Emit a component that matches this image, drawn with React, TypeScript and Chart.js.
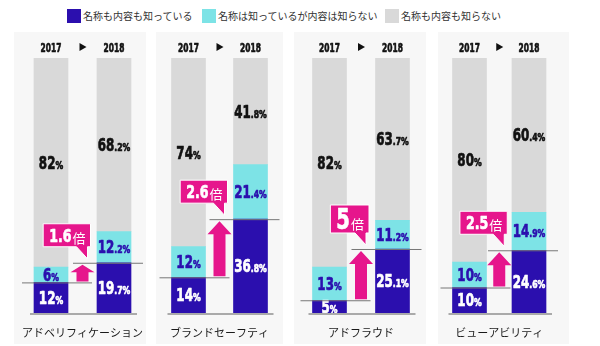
import React, { useEffect, useRef } from 'react';
import { Chart, registerables } from 'chart.js';

Chart.register(...registerables);

// ---- data ----
const years = ['2017', '2018'];
const panelNames = ['アドベリフィケーション', 'ブランドセーフティ', 'アドフラウド', 'ビューアビリティ'];
const seriesNames = ['名称も内容も知っている', '名称は知っているが内容は知らない', '名称も内容も知らない'];
const knowBoth = [[12, 19.7], [14, 36.8], [5, 25.1], [10, 24.6]];
const knowName = [[6, 12.2], [12, 21.4], [13, 11.2], [10, 14.9]];
const knowNone = [[82, 68.2], [74, 41.8], [82, 63.7], [80, 60.4]];
const growth = ['1.6', '2.6', '5', '2.5'];
const growthUnit = '倍';

// ---- styles ----
const COLORS = ['#2b0fae', '#7de3e6', '#d9d9d9'];
const LABEL_COLORS = ['#ffffff', '#2b0fae', '#111111'];
const PINK = '#e6168c';
const NUM_FONT = '"DejaVu Sans", sans-serif';
const JP_FONT = '"Noto Sans CJK JP", "Noto Sans", sans-serif';
const SQUEEZE = 0.7;

const PANELS = [
  { left: 14, width: 132, padL: 5.5, padR: 0.5 },
  { left: 156, width: 127, padL: 1.5, padR: 1.5 },
  { left: 294, width: 132, padL: 4, padR: 2 },
  { left: 438, width: 131, padL: 1.75, padR: 10.25 },
];

function splitPct(v: number): [string, string] {
  const s = v.toString();
  const dot = s.indexOf('.');
  return dot < 0 ? [s, '%'] : [s.slice(0, dot), s.slice(dot) + '%'];
}

// draw condensed heavy text starting at x (left aligned), returns width
function condText(ctx: CanvasRenderingContext2D, text: string, x: number, base: number, size: number, sq: number) {
  ctx.font = `bold ${size}px ${NUM_FONT}`;
  const w = ctx.measureText(text).width * sq;
  ctx.save();
  ctx.translate(x, base);
  ctx.scale(sq, 1);
  ctx.textAlign = 'left';
  ctx.textBaseline = 'alphabetic';
  ctx.fillText(text, 0, 0);
  ctx.strokeStyle = ctx.fillStyle;
  ctx.lineWidth = 0.7;
  ctx.lineJoin = 'round';
  ctx.strokeText(text, 0, 0);
  ctx.restore();
  return w;
}

function condWidth(ctx: CanvasRenderingContext2D, text: string, size: number, sq: number) {
  ctx.font = `bold ${size}px ${NUM_FONT}`;
  return ctx.measureText(text).width * sq;
}

function drawPct(ctx: CanvasRenderingContext2D, v: number, x: number, y: number, color: string) {
  const big = 17;
  const small = 11;
  const [a, b] = splitPct(v);
  const wa = condWidth(ctx, a, big, SQUEEZE);
  const wb = condWidth(ctx, b, small, SQUEEZE);
  const x0 = x - (wa + wb) / 2;
  const base = y + big * 0.365;
  ctx.fillStyle = color;
  condText(ctx, a, x0, base, big, SQUEEZE);
  condText(ctx, b, x0 + wa, base, small, SQUEEZE);
}

function overlayPlugin(idx: number) {
  return {
    id: 'overlay' + idx,
    afterDatasetsDraw(chart: any) {
      const ctx: CanvasRenderingContext2D = chart.ctx;
      ctx.save();
      chart.data.datasets.forEach((ds: any, d: number) => {
        const meta = chart.getDatasetMeta(d);
        meta.data.forEach((el: any, j: number) => {
          const { x, y, base } = el.getProps(['x', 'y', 'base'], true);
          drawPct(ctx, ds.data[j], x, (y + base) / 2, LABEL_COLORS[d]);
        });
      });
      ctx.restore();
    },
    afterDraw(chart: any) {
      const ctx: CanvasRenderingContext2D = chart.ctx;
      const xs = chart.scales.x;
      const area = chart.chartArea;
      const meta = chart.getDatasetMeta(0);
      const b0 = meta.data[0].getProps(['x', 'y', 'width'], true);
      const b1 = meta.data[1].getProps(['x', 'y', 'width'], true);
      ctx.save();

      // year labels + triangle
      ctx.fillStyle = '#111';
      years.forEach((yr, j) => {
        const px = xs.getPixelForValue(j);
        const w = condWidth(ctx, yr, 12.5, 0.6);
        condText(ctx, yr, px - w / 2, 15 + 12.5 * 0.365, 12.5, 0.6);
      });
      const mx = (xs.getPixelForValue(0) + xs.getPixelForValue(1)) / 2;
      ctx.beginPath();
      ctx.moveTo(mx - 3, 11);
      ctx.lineTo(mx - 3, 19);
      ctx.lineTo(mx + 4, 15);
      ctx.closePath();
      ctx.fill();

      // baseline
      ctx.strokeStyle = '#aaaaaa';
      ctx.lineWidth = 2;
      ctx.beginPath();
      ctx.moveTo(b0.x - b0.width / 2 - 4, area.bottom + 1);
      ctx.lineTo(b1.x + b1.width / 2 + 6, area.bottom + 1);
      ctx.stroke();

      // reference lines
      ctx.strokeStyle = '#777777';
      ctx.lineWidth = 1;
      ctx.beginPath();
      ctx.moveTo(b0.x - b0.width / 2 - 12, b0.y + 0.5);
      ctx.lineTo(b0.x + b0.width / 2 + 24, b0.y + 0.5);
      ctx.moveTo(b1.x - b1.width / 2 - 24, b1.y + 0.5);
      ctx.lineTo(b1.x + b1.width / 2 + 12, b1.y + 0.5);
      ctx.stroke();

      // arrow
      const cx = (b0.x + b1.x) / 2;
      const bottomY = b0.y - 1;
      const topY = b1.y + 2;
      const headH = Math.min(13, (bottomY - topY) * 0.45);
      ctx.fillStyle = PINK;
      ctx.beginPath();
      ctx.moveTo(cx, topY);
      ctx.lineTo(cx + 12, topY + headH);
      ctx.lineTo(cx + 6, topY + headH);
      ctx.lineTo(cx + 6, bottomY);
      ctx.lineTo(cx - 6, bottomY);
      ctx.lineTo(cx - 6, topY + headH);
      ctx.lineTo(cx - 12, topY + headH);
      ctx.closePath();
      ctx.fill();

      // callout
      const g = growth[idx];
      const isInt = g.indexOf('.') < 0;
      const numSize = isInt ? 28 : 18;
      const boxH = isInt ? 28 : 23;
      const wn = condWidth(ctx, g, numSize, SQUEEZE);
      ctx.font = `13px ${JP_FONT}`;
      const wu = ctx.measureText(growthUnit).width;
      const tipX = cx + 5;
      const tipY = topY - 6;
      const right = cx + 8;
      const bottom = tipY - 12;
      const top = bottom - boxH;
      const width = wn + wu + 12;
      const left = right - width;
      ctx.beginPath();
      ctx.moveTo(left, top);
      ctx.lineTo(right, top);
      ctx.lineTo(right, bottom);
      ctx.lineTo(right - 3, bottom);
      ctx.lineTo(tipX, tipY);
      ctx.lineTo(right - 14, bottom);
      ctx.lineTo(left, bottom);
      ctx.closePath();
      ctx.fillStyle = PINK;
      ctx.fill();
      ctx.strokeStyle = '#ffffff';
      ctx.lineWidth = 1;
      ctx.stroke();
      const cy = (top + bottom) / 2;
      const base = cy + numSize * 0.365;
      ctx.fillStyle = '#ffffff';
      condText(ctx, g, left + 6, base, numSize, SQUEEZE);
      ctx.font = `13px ${JP_FONT}`;
      ctx.textAlign = 'left';
      ctx.textBaseline = 'alphabetic';
      ctx.fillText(growthUnit, left + 6 + wn + 1, isInt ? base : base + 1);

      ctx.restore();
    },
  };
}

function Panel({ idx }: { idx: number }) {
  const ref = useRef<HTMLCanvasElement>(null);
  const p = PANELS[idx];
  useEffect(() => {
    const chart = new Chart(ref.current as HTMLCanvasElement, {
      type: 'bar',
      data: {
        labels: years,
        datasets: [knowBoth, knowName, knowNone].map((arr, d) => ({
          label: seriesNames[d],
          data: arr[idx],
          backgroundColor: COLORS[d],
          borderWidth: 0,
          barThickness: 34,
        })),
      },
      options: {
        animation: false,
        responsive: true,
        maintainAspectRatio: false,
        layout: { padding: { top: 26, left: p.padL, right: p.padR, bottom: 0 } },
        scales: {
          x: { stacked: true, display: false },
          y: { stacked: true, display: false, min: 0, max: 100 },
        },
        plugins: {
          legend: { display: false },
          tooltip: { enabled: false },
          title: {
            display: true,
            position: 'bottom',
            text: panelNames[idx],
            color: '#1a1a1a',
            font: { family: JP_FONT, size: 11, weight: 'normal', lineHeight: 1.2 },
            padding: { top: 13.4, bottom: 4.4 },
          },
        },
      } as any,
      plugins: [overlayPlugin(idx)],
    });
    return () => chart.destroy();
  }, [idx]);
  return (
    <div style={{ position: 'absolute', left: p.left, top: 32, width: p.width, height: 312, background: '#f7f7f7' }}>
      <canvas ref={ref} />
    </div>
  );
}

const LEGEND_POS = [67, 202, 385];

export default function App() {
  return (
    <div style={{ position: 'absolute', left: 0, top: 0, width: 600, height: 346, background: '#ffffff', overflow: 'hidden' }}>
      {seriesNames.map((name, i) => (
        <div
          key={name}
          style={{ position: 'absolute', left: LEGEND_POS[i], top: 9, height: 14, display: 'flex', alignItems: 'center', whiteSpace: 'nowrap' }}
        >
          <span style={{ display: 'inline-block', width: 14, height: 14, background: COLORS[i], marginRight: 2 }} />
          <span style={{ fontFamily: JP_FONT, fontSize: 10, color: '#333333', lineHeight: '14px' }}>{name}</span>
        </div>
      ))}
      {panelNames.map((_, i) => (
        <Panel key={i} idx={i} />
      ))}
    </div>
  );
}
